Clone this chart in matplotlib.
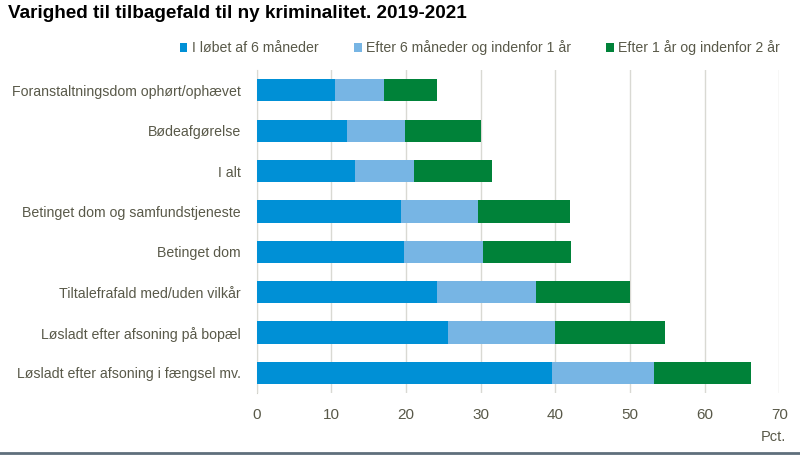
import matplotlib
matplotlib.use("Agg")
import matplotlib.pyplot as plt
from matplotlib.lines import Line2D
from matplotlib.patches import Patch

plt.rcParams["font.family"] = ["Liberation Sans", "DejaVu Sans"]

categories = [
    "Foranstaltningsdom ophørt/ophævet",
    "Bødeafgørelse",
    "I alt",
    "Betinget dom og samfundstjeneste",
    "Betinget dom",
    "Tiltalefrafald med/uden vilkår",
    "Løsladt efter afsoning på bopæl",
    "Løsladt efter afsoning i fængsel mv.",
]
series_names = [
    "I løbet af 6 måneder",
    "Efter 6 måneder og indenfor 1 år",
    "Efter 1 år og indenfor 2 år",
]
within_6m = [10.5, 12.1, 13.1, 19.3, 19.7, 24.2, 25.6, 39.6]
m6_to_1y = [6.5, 7.7, 8.0, 10.4, 10.6, 13.2, 14.4, 13.6]
y1_to_2y = [7.1, 10.2, 10.4, 12.3, 11.8, 12.6, 14.7, 13.0]
xticks = [0, 10, 20, 30, 40, 50, 60, 70]

colors = ["#0090d6", "#77b5e4", "#008239"]
text_col = "#595949"

fig = plt.figure(figsize=(8, 4.55), dpi=100)
ax = fig.add_axes([0.321, 0.136, 0.653, 0.710])

ypos = list(range(len(categories)))
left = [0.0] * len(categories)
for vals, col in zip([within_6m, m6_to_1y, y1_to_2y], colors):
    ax.barh(ypos, vals, left=left, height=0.55, color=col, zorder=3)
    left = [l + v for l, v in zip(left, vals)]

ax.set_ylim(len(categories) - 0.5, -0.5)
ax.set_xlim(0, 70)
ax.set_xticks(xticks)
ax.set_xticklabels([str(t) for t in xticks], fontsize=11, color=text_col)
ax.set_yticks(ypos)
ax.set_yticklabels(categories, fontsize=10.2, color=text_col)
ax.tick_params(axis="y", length=0, pad=11.5)
ax.tick_params(axis="x", length=0, pad=11)
ax.grid(axis="x", color="#d9d9d3", linewidth=1, zorder=0)
for s in ["top", "right", "bottom"]:
    ax.spines[s].set_visible(False)
ax.spines["left"].set_color("#d0d0c8")
ax.spines["left"].set_zorder(1)

fig.text(786 / 800, 1 - 437 / 455, "Pct.", ha="right", va="center", fontsize=10.5, color=text_col)
fig.text(8 / 800, 1 - 14 / 455, "Varighed til tilbagefald til ny kriminalitet. 2019-2021",
         ha="left", va="center", fontsize=13.6, fontweight="bold", color="#000000")

handles = [Patch(facecolor=c, edgecolor="none") for c in colors]
fig.legend(handles, series_names, loc="center right", bbox_to_anchor=(780 / 800, 1 - 48 / 455),
           ncol=3, frameon=False, fontsize=10.2, handlelength=0.55, handleheight=0.55,
           handletextpad=0.3, columnspacing=2.5, labelcolor=text_col, borderpad=0,
           borderaxespad=0)

fig.add_artist(Line2D([0, 1], [1 - 453 / 455, 1 - 453 / 455], color="#5f6f7c", linewidth=2,
                      transform=fig.transFigure))

fig.savefig("out.png", dpi=100)
